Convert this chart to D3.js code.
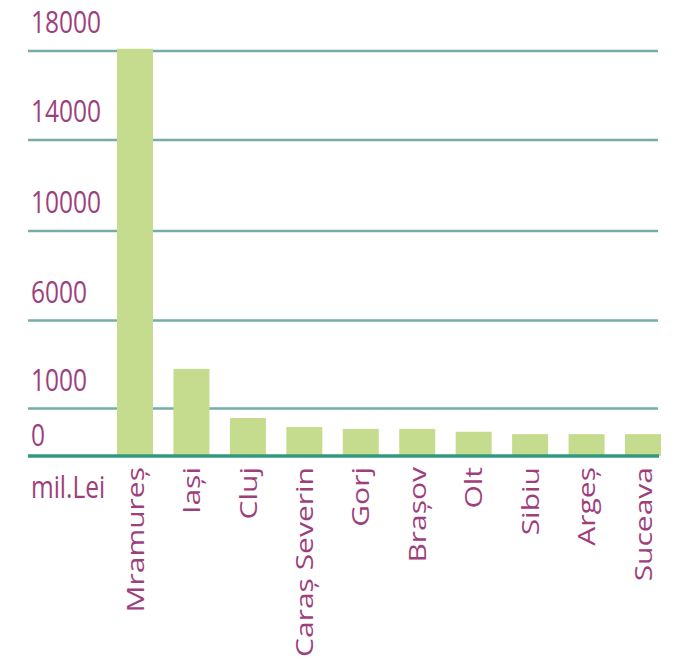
<!DOCTYPE html>
<html>
<head>
<meta charset="utf-8">
<script src="https://cdn.jsdelivr.net/npm/d3@7"></script>
<style>
  html, body { margin: 0; padding: 0; background: #ffffff; }
  svg { display: block; }
  text { font-family: "Open Sans", "Noto Sans", sans-serif; fill: #9e3f7d; }
</style>
</head>
<body>
<svg id="chart" width="682" height="671"></svg>
<script>
// ---- data ----
const categories = ["Mramureș", "Iași", "Cluj", "Caraș Severin", "Gorj", "Brașov", "Olt", "Sibiu", "Argeș", "Suceava"];
const values = [18100, 3250, 800, 610, 570, 570, 510, 460, 460, 460];
const tickValues = [0, 1000, 6000, 10000, 14000, 18000];
const tickLabels = ["0", "1000", "6000", "10000", "14000", "18000"];
const unitLabel = "mil.Lei";

// ---- layout ----
const svg = d3.select("#chart");
const left = 28, right = 658;
const stretch = 1.25;

// piecewise (non-uniform) axis as in the original figure
const y = d3.scaleLinear()
  .domain(tickValues)
  .range([456, 408.5, 320.5, 231, 140, 51]);

const x = d3.scaleBand()
  .domain(categories)
  .range([117, 661])
  .paddingInner(0.362)
  .paddingOuter(0);

// gridlines (non-zero ticks)
svg.append("g").selectAll("line")
  .data(tickValues.filter(v => v !== 0))
  .join("line")
  .attr("x1", left).attr("x2", right)
  .attr("y1", d => y(d)).attr("y2", d => y(d))
  .attr("stroke", "#74ada9")
  .attr("stroke-width", 2.6);

// bars
svg.append("g").selectAll("rect")
  .data(categories)
  .join("rect")
  .attr("x", d => x(d))
  .attr("width", x.bandwidth())
  .attr("y", (d, i) => y(values[i]))
  .attr("height", (d, i) => y(0) - y(values[i]))
  .attr("fill", "#c5dc8f");

// baseline
svg.append("line")
  .attr("x1", left).attr("x2", right + 1)
  .attr("y1", y(0)).attr("y2", y(0))
  .attr("stroke", "#33987e")
  .attr("stroke-width", 3.6);

// y tick labels (above their gridline)
svg.append("g").selectAll("text")
  .data(tickValues)
  .join("text")
  .attr("transform", d => `translate(${left + 3},${y(d) - (d === 0 ? 10 : 18)}) scale(1,${stretch})`)
  .attr("font-size", 24.5)
  .text((d, i) => tickLabels[i]);

// unit label
svg.append("text")
  .attr("transform", `translate(${left + 3},498) scale(1,${stretch})`)
  .attr("font-size", 24.5)
  .text(unitLabel);

// category labels, rotated
svg.append("g").selectAll("text")
  .data(categories)
  .join("text")
  .attr("transform", d => `translate(${x(d) + x.bandwidth() / 2},${y(0) + 11}) rotate(-90) scale(${stretch},1)`)
  .attr("text-anchor", "end")
  .attr("dy", "0.36em")
  .attr("font-size", 24)
  .text(d => d);
</script>
</body>
</html>
